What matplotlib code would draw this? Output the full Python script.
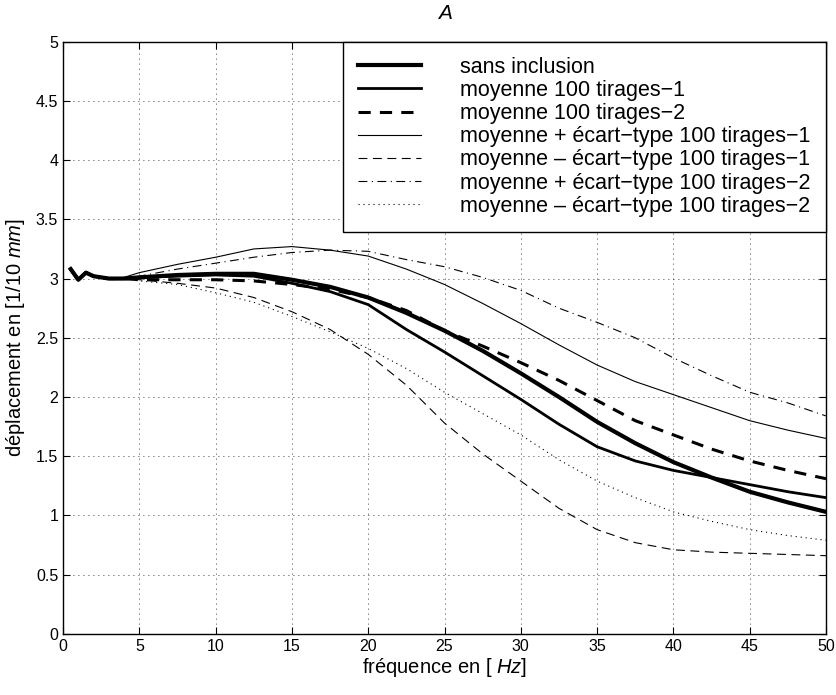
import numpy as np
import matplotlib
matplotlib.use("Agg")
import matplotlib.pyplot as plt

plt.rcParams['font.family'] = ['Liberation Sans', 'DejaVu Sans']
plt.rcParams['mathtext.fontset'] = 'custom'
plt.rcParams['mathtext.rm'] = 'Liberation Sans'
plt.rcParams['mathtext.it'] = 'Liberation Sans:italic'

# frequences (Hz)
freq = [0.5, 1, 1.5, 2, 2.5, 3, 4, 5, 7.5, 10, 12.5, 15, 17.5, 20, 22.5, 25,
        27.5, 30, 32.5, 35, 37.5, 40, 42.5, 45, 47.5, 50]

debut = [3.08, 2.99, 3.05, 3.02, 3.01, 3.00, 3.00]

sans_inclusion = debut + [3.01, 3.03, 3.04, 3.04, 2.99, 2.93, 2.84, 2.71, 2.56,
                          2.39, 2.20, 2.00, 1.79, 1.61, 1.45, 1.32, 1.20, 1.11, 1.03]
moy_1 = debut + [3.01, 3.02, 3.03, 3.02, 2.96, 2.89, 2.78, 2.57, 2.38,
                 2.18, 1.98, 1.77, 1.58, 1.46, 1.38, 1.32, 1.26, 1.20, 1.15]
moy_2 = debut + [2.99, 2.99, 2.99, 2.98, 2.95, 2.91, 2.84, 2.73, 2.56,
                 2.43, 2.29, 2.14, 1.97, 1.80, 1.68, 1.56, 1.46, 1.38, 1.31]
plus_std_1 = debut[:-1] + [3.01, 3.05, 3.12, 3.18, 3.25, 3.27, 3.24, 3.19, 3.08, 2.95,
                           2.79, 2.62, 2.44, 2.27, 2.13, 2.02, 1.91, 1.80, 1.72, 1.65]
moins_std_1 = debut + [2.99, 2.96, 2.92, 2.84, 2.72, 2.57, 2.36, 2.10, 1.78,
                       1.52, 1.29, 1.06, 0.88, 0.77, 0.71, 0.69, 0.68, 0.67, 0.66]
plus_std_2 = debut + [3.02, 3.08, 3.13, 3.18, 3.22, 3.24, 3.23, 3.16, 3.10,
                      3.01, 2.90, 2.75, 2.63, 2.50, 2.33, 2.18, 2.04, 1.95, 1.84]
moins_std_2 = debut + [2.98, 2.95, 2.88, 2.80, 2.68, 2.55, 2.41, 2.24, 2.04,
                       1.86, 1.68, 1.47, 1.29, 1.15, 1.03, 0.95, 0.88, 0.83, 0.79]

labels = ['sans inclusion',
          'moyenne 100 tirages\u22121',
          'moyenne 100 tirages\u22122',
          'moyenne + écart\u2212type 100 tirages\u22121',
          'moyenne \u2013 écart\u2212type 100 tirages\u22121',
          'moyenne + écart\u2212type 100 tirages\u22122',
          'moyenne \u2013 écart\u2212type 100 tirages\u22122']

fig = plt.figure(figsize=(8.36, 6.95), dpi=100)
ax = fig.add_axes([0.0754, 0.088, 0.9126, 0.852])

ax.plot(freq, sans_inclusion, 'k-', lw=3.0, label=labels[0])
ax.plot(freq, moy_1, 'k-', lw=2.0, label=labels[1])
ax.plot(freq, moy_2, 'k--', lw=2.2, dashes=(4, 3), label=labels[2])
ax.plot(freq, plus_std_1, 'k-', lw=0.8, label=labels[3])
ax.plot(freq, moins_std_1, 'k--', lw=0.8, dashes=(8, 5), label=labels[4])
ax.plot(freq, plus_std_2, 'k-.', lw=0.8, dashes=(8, 4, 1, 4), label=labels[5])
ax.plot(freq, moins_std_2, 'k:', lw=0.8, dashes=(1, 3.5), label=labels[6])

ax.set_xlim(0, 50)
ax.set_ylim(0, 5)
ax.set_xticks(np.arange(0, 51, 5))
ax.set_yticks(np.arange(0, 5.01, 0.5))
ax.set_yticklabels(['0', '0.5', '1', '1.5', '2', '2.5', '3', '3.5', '4', '4.5', '5'])
ax.tick_params(direction='in', length=5, labelsize=11.5, top=True, right=True)
ax.grid(True, color='k', linestyle=(0, (1, 5)), linewidth=0.6)
for s in ax.spines.values():
    s.set_linewidth(1.0)

ax.set_title('$\\mathit{A}$', fontsize=15, pad=16)
ax.set_xlabel('fréquence en [ $\\mathit{Hz}$]', fontsize=14.5, labelpad=2)
ax.set_ylabel('déplacement en [1/10 $\\mathit{mm}$]', fontsize=14.5, labelpad=6)

leg = ax.legend(loc='upper right', borderaxespad=0, fancybox=False, fontsize=15.5,
                handlelength=2.9, handletextpad=1.85, labelspacing=0.1,
                framealpha=1, borderpad=0.7)
leg.get_frame().set_edgecolor('k')
leg.get_frame().set_linewidth(1.0)

fig.savefig('out.png', dpi=100)
